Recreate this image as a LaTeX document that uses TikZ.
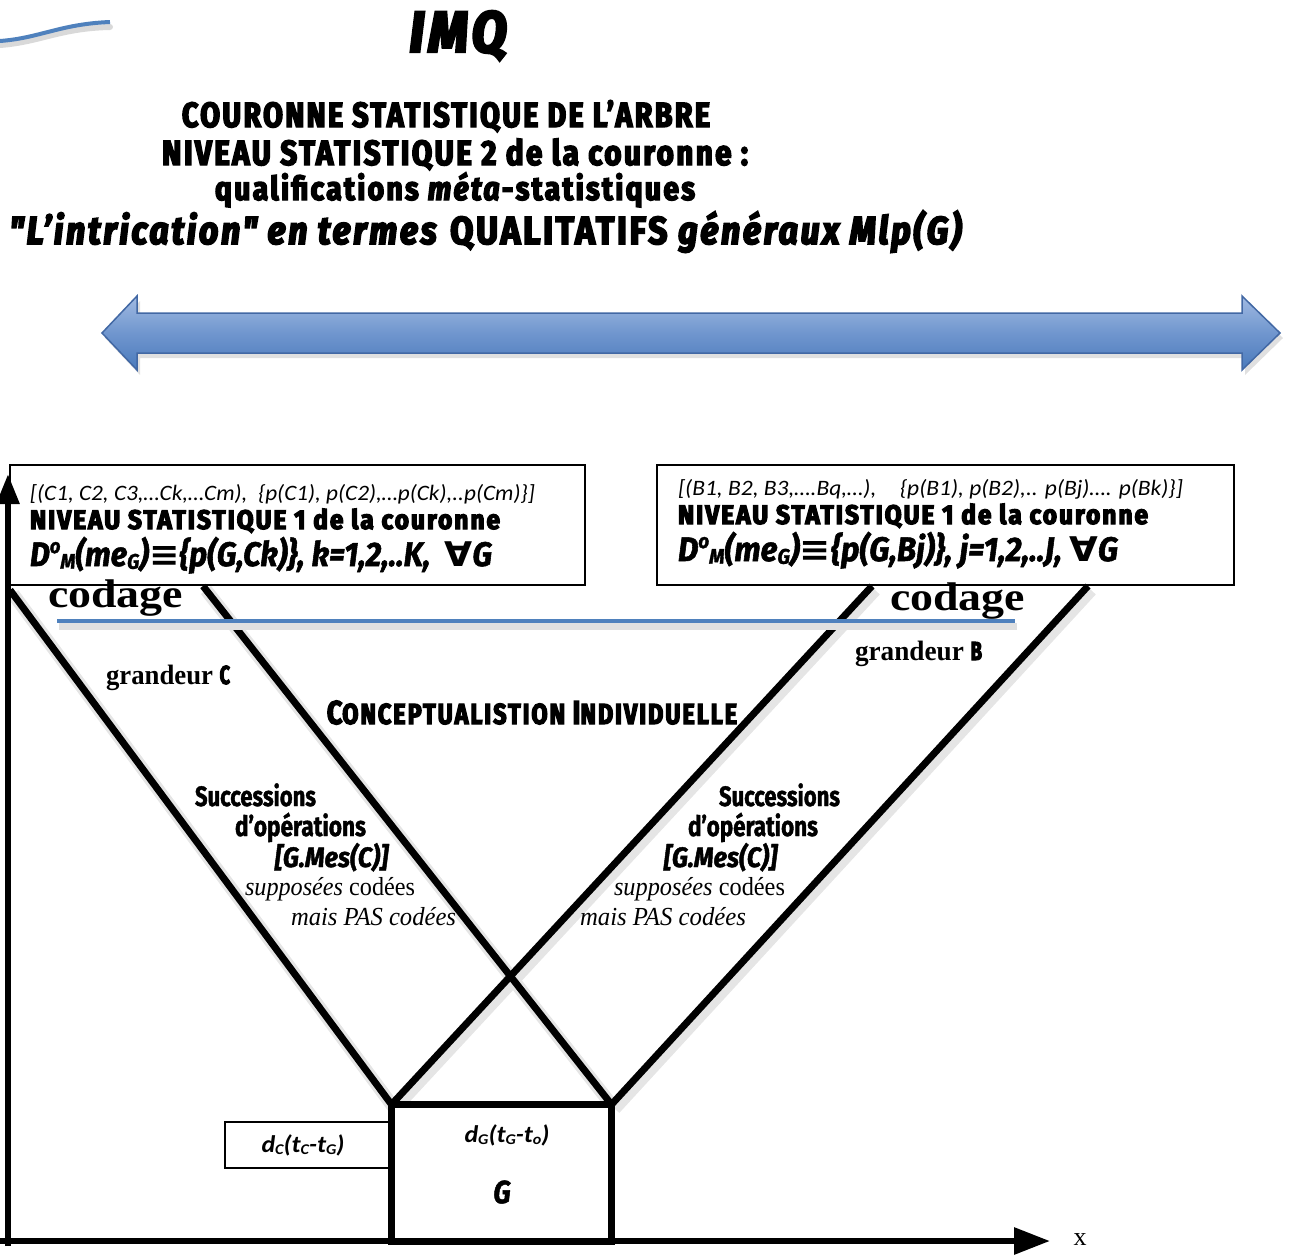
\documentclass[tikz,border=0pt]{standalone}
\usepackage{fontspec}
\usepackage{graphicx}
\usetikzlibrary{arrows.meta}
\setmainfont{Liberation Serif}
\newfontfamily\heavy[FakeStretch=0.72,LetterSpace=6,BoldFeatures={FakeBold=4},BoldItalicFeatures={FakeBold=4}]{Fira Sans}
\newfontfamily\medb[FakeStretch=0.85,BoldFeatures={FakeBold=1.5},BoldItalicFeatures={FakeBold=1.5}]{Fira Sans}
\newfontfamily\carl{Carlito}
\newfontfamily\dvs{DejaVu Sans}
\newcommand\fitw[2]{\resizebox{#1pt}{\height}{#2}}
\newcommand\HV[1]{\heavy\bfseries\fontsize{#1}{#1}\selectfont}
\newcommand\MB[1]{\medb\bfseries\fontsize{#1}{#1}\selectfont}
\newcommand\SR[1]{\fontsize{#1}{#1}\selectfont}
\newcommand\CB[1]{\carl\fontsize{#1}{#1}\selectfont}
\newcommand\lsub[1]{\raisebox{-0.08em}{\scalebox{0.62}{#1}}}
\newcommand\lsup[1]{\raisebox{0.38em}{\scalebox{0.6}{#1}}}
\definecolor{arrtop}{RGB}{160,186,226}
\definecolor{arrmid}{RGB}{112,150,206}
\definecolor{arrbot}{RGB}{74,122,188}
\definecolor{arrline}{RGB}{66,104,164}
\definecolor{bline}{RGB}{79,129,189}
\begin{document}
\begin{tikzpicture}[x=1pt,y=-1pt,
  tn/.style={inner sep=0pt,outer sep=0pt},
  vline/.style={line width=7pt,black},
  vshadow/.style={line width=13pt,black!10},
  thinbox/.style={draw=black,line width=2pt,fill=white,inner sep=0pt},
  axis/.style={line width=6pt,black}]
\useasboundingbox (0,0) rectangle (1290,1254);
% swoosh
\draw[black!15,line width=6pt,line cap=round] (0,45) .. controls (40,42) and (60,28) .. (110,27);
\draw[bline,line width=4pt] (0,41) .. controls (40,38) and (60,24) .. (110,22);
% titles
\node[tn,anchor=base] (imq) at (458,52) {\fitw{97}{\HV{58}\itshape IMQ}};
\node[tn,anchor=base] (t1) at (446,127) {\fitw{528}{\HV{35}COURONNE STATISTIQUE DE L’ARBRE}};
\node[tn,anchor=base] (t2) at (455,165) {\fitw{586}{\HV{35}NIVEAU STATISTIQUE 2 de la couronne :}};
\node[tn,anchor=base] (t3) at (455,200) {\fitw{480}{\HV{33}qualifications \textit{méta}-statistiques}};
\node[tn,anchor=base] (t4) at (487,244) {\fitw{955}{\HV{39}\textit{"L’intrication" en termes} QUALITATIFS \textit{généraux Mlp(G)}}};
% double arrow
\fill[black!20,opacity=.6] (105,338) -- (140,301) -- (140,318) -- (1245,318) -- (1245,301) -- (1283,338) -- (1245,375) -- (1245,358) -- (140,358) -- (140,375) -- cycle;
\shade[top color=arrtop,bottom color=arrbot,middle color=arrmid,draw=arrline,line width=1.5pt]
  (102,333) -- (137,296) -- (137,313) -- (1242,313) -- (1242,296) -- (1280,333) -- (1242,370) -- (1242,353) -- (137,353) -- (137,370) -- cycle;
% boxes
\node[thinbox,minimum width=575pt,minimum height=120pt] (lbox) at (297.5,525) {};
\node[thinbox,minimum width=577pt,minimum height=120pt] (rbox) at (945.5,525) {};
\node[draw=black,line width=7pt,fill=white,minimum width=213pt,minimum height=130pt,inner sep=0pt] (gbox) at (501.5,1173) {};
\node[thinbox,minimum width=167pt,minimum height=46pt] (dcbox) at (308.5,1145) {};
% V lines
\coordinate (lo) at (10,590);
\coordinate (li) at (203,586);
\coordinate (ri) at (872,586);
\coordinate (ro) at (1088,586);
\draw[vshadow] ([shift={(3,4)}]lo) -- ([shift={(3,4)}]gbox.north west);
\draw[vshadow] ([shift={(3,4)}]ri) -- ([shift={(3,4)}]gbox.north west);
\draw[vshadow] ([shift={(3,4)}]li) -- ([shift={(3,4)}]gbox.north east);
\draw[vshadow] ([shift={(3,4)}]ro) -- ([shift={(3,4)}]gbox.north east);
\draw[vline] (lo) -- (gbox.north west);
\draw[vline] (ri) -- (gbox.north west);
\draw[vline] (li) -- (gbox.north east);
\draw[vline] (ro) -- (gbox.north east);
\fill[white] (gbox.north west) rectangle (gbox.south east);
\draw[line width=7pt] (gbox.north west) rectangle (gbox.south east);
% axes
\coordinate (O) at (8,1241);
\coordinate (ytip) at (8,474);
\coordinate (xtip) at (1050,1241);
\draw[axis,-{Triangle[length=30pt,width=22pt]}] (8,1246) -- (ytip);
\draw[axis,-{Triangle[length=36pt,width=26pt]}] (0,1241) -- (xtip);
\node[tn] (xl) at (1080,1240) {\SR{26}x};
% blue line
\draw[black!12,line width=7pt] (59,626) -- (1017,626);
\draw[bline,line width=4pt] (57,621) -- (1015,621);
% box texts left
\node[tn,anchor=base west] (l1) at (30,500) {\fitw{505}{\CB{22}\itshape [(C1, C2, C3,…Ck,…Cm),\ \ \{p(C1), p(C2),…p(Ck),..p(Cm)\}]}};
\node[tn,anchor=base west] (l2) at (30,529) {\fitw{470}{\HV{27}NIVEAU STATISTIQUE 1 de la couronne}};
\node[tn,anchor=base west] (l3) at (30,566) {\fitw{462}{\MB{34}\itshape D\lsup{o}\lsub{M}(me\lsub{G}){\dvs\bfseries ≡}\{p(G,Ck)\}, k=1,2,..K,\ \ {\dvs\bfseries ∀}G}};
% box texts right
\node[tn,anchor=base west] (r1) at (678,495) {\fitw{505}{\CB{22}\itshape [(B1, B2, B3,….Bq,…),\quad \{p(B1), p(B2),.. p(Bj)…. p(Bk)\}]}};
\node[tn,anchor=base west] (r2) at (678,524) {\fitw{470}{\HV{27}NIVEAU STATISTIQUE 1 de la couronne}};
\node[tn,anchor=base west] (r3) at (678,561) {\fitw{440}{\MB{34}\itshape D\lsup{o}\lsub{M}(me\lsub{G}){\dvs\bfseries ≡}\{p(G,Bj)\}, j=1,2,..J, {\dvs\bfseries ∀}G}};
% codage
\node[tn,anchor=base west] (cl) at (48,607) {\fitw{135}{\SR{40}\bfseries codage}};
\node[tn,anchor=base west] (cr) at (890,610) {\fitw{135}{\SR{40}\bfseries codage}};
% grandeur
\node[tn,anchor=base west] (gc) at (106,684) {\fitw{124}{\SR{28}\bfseries grandeur {\HV{26}C}}};
\node[tn,anchor=base west] (gb) at (855,660) {\fitw{127}{\SR{28}\bfseries grandeur {\HV{26}B}}};
% conceptualisation
\node[tn,anchor=base] (ci) at (532,724) {\fitw{410}{\HV{29}{\fontsize{33}{33}\selectfont C}ONCEPTUALISTION {\fontsize{33}{33}\selectfont I}NDIVIDUELLE}};
% left text block
\node[tn,anchor=base west] (s1) at (195,806) {\fitw{121}{\MB{28}Successions}};
\node[tn,anchor=base west] (s2) at (235,836) {\fitw{131}{\MB{28}d’opérations}};
\node[tn,anchor=base west] (s3) at (275,867) {\fitw{113}{\MB{28}\itshape [G.Mes(C)]}};
\node[tn,anchor=base west] (s4) at (245,895) {\fitw{170}{\SR{26}\textit{supposées} codées}};
\node[tn,anchor=base west] (s5) at (291,925) {\fitw{165}{\SR{26}\itshape mais PAS codées}};
% right text block
\node[tn,anchor=base west] (u1) at (719,806) {\fitw{121}{\MB{28}Successions}};
\node[tn,anchor=base west] (u2) at (688,836) {\fitw{130}{\MB{28}d’opérations}};
\node[tn,anchor=base west] (u3) at (664,867) {\fitw{113}{\MB{28}\itshape [G.Mes(C)]}};
\node[tn,anchor=base west] (u4) at (614,895) {\fitw{171}{\SR{26}\textit{supposées} codées}};
\node[tn,anchor=base west] (u5) at (580,925) {\fitw{166}{\SR{26}\itshape mais PAS codées}};
% bottom box texts
\node[tn] (dc) at (303,1145) {\fitw{83}{\CB{24}\bfseries\itshape d\lsub{C}(t\lsub{C}-t\lsub{G})}};
\node[tn] (dg) at (507,1135) {\fitw{85}{\CB{24}\bfseries\itshape d\lsub{G}(t\lsub{G}-t\lsub{o})}};
\node[tn] (g) at (502,1192) {\MB{32}\itshape G};
\end{tikzpicture}
\end{document}
